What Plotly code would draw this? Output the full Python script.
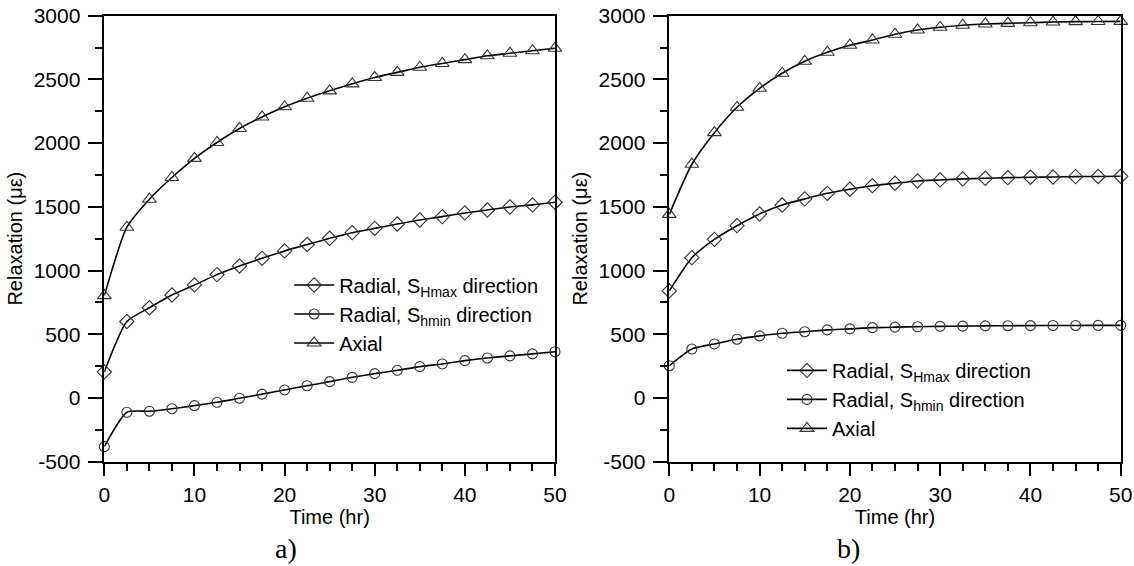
import plotly.graph_objects as go

time_hr = [0, 2.5, 5, 7.5, 10, 12.5, 15, 17.5, 20, 22.5, 25, 27.5, 30,
           32.5, 35, 37.5, 40, 42.5, 45, 47.5, 50]

# Panel a)
a_hmax = [205, 600, 708, 808, 887, 968, 1036, 1096, 1154, 1204, 1253, 1297,
          1331, 1365, 1397, 1423, 1452, 1475, 1499, 1515, 1536]
a_hmin = [-382, -112, -104, -84, -60, -34, -2, 30, 63, 96, 128, 162, 191,
          217, 246, 267, 293, 314, 330, 346, 363]
a_axial = [803, 1340, 1560, 1730, 1880, 2005, 2115, 2205, 2285, 2352, 2410,
           2465, 2515, 2555, 2595, 2625, 2655, 2685, 2705, 2725, 2744]

# Panel b)
b_hmax = [840, 1101, 1245, 1352, 1444, 1514, 1562, 1606, 1638, 1666, 1685,
          1703, 1711, 1719, 1724, 1729, 1732, 1734, 1737, 1738, 1740]
b_hmin = [253, 384, 424, 461, 487, 508, 520, 534, 542, 552, 556, 559, 562,
          564, 566, 567, 568, 569, 569, 570, 570]
b_axial = [1441, 1834, 2082, 2281, 2430, 2548, 2642, 2713, 2768, 2809, 2854,
           2888, 2909, 2925, 2935, 2940, 2945, 2950, 2953, 2954, 2955]

series_names = ["Radial, S<sub>Hmax</sub> direction",
                "Radial, S<sub>hmin</sub> direction",
                "Axial"]
symbols = ["diamond-open", "circle-open", "triangle-up-open"]
marker_sizes = [11, 10, 12]
x_ticks = [0, 10, 20, 30, 40, 50]
y_ticks = [-500, 0, 500, 1000, 1500, 2000, 2500, 3000]
y_tick_text = ["-500", "0", "500", "1000", "1500", "2000", "2500", "3000"]
panel_labels = ["a)", "b)"]

FONT = "Arial, Liberation Sans, sans-serif"
fig = go.Figure()

panels = [(a_hmax, a_hmin, a_axial), (b_hmax, b_hmin, b_axial)]
for p, data in enumerate(panels):
    xa = "x" if p == 0 else "x2"
    ya = "y" if p == 0 else "y2"
    lg = "legend" if p == 0 else "legend2"
    for k, vals in enumerate(data):
        fig.add_trace(go.Scatter(
            x=time_hr, y=vals, xaxis=xa, yaxis=ya, name=series_names[k],
            mode="lines+markers", legend=lg,
            line=dict(color="black", width=1.6, shape="spline", smoothing=0.6),
            marker=dict(symbol=symbols[k], size=marker_sizes[k],
                        color="#333333", line=dict(width=1.1)),
            cliponaxis=False,
        ))

axis_common = dict(showline=True, linecolor="black", linewidth=1.5,
                   mirror=True, showgrid=False, zeroline=False,
                   automargin=False,
                   ticks="outside", tickcolor="black", tickwidth=1.5,
                   tickfont=dict(family=FONT, size=21, color="black"))

x_dom = [[0.0920, 0.4894], [0.5902, 0.9883]]
y_dom = [0.1843, 0.9723]
label_x = [0.2522, 0.7480]

for p in range(2):
    sfx = "" if p == 0 else "2"
    fig.layout["xaxis" + sfx] = dict(
        axis_common, domain=x_dom[p], range=[0, 50],
        tickvals=x_ticks, ticklen=13,
        minor=dict(dtick=2.5, ticklen=8, ticks="outside", tickcolor="black",
                   tickwidth=1.5),
        title=dict(text="Time (hr)", font=dict(family=FONT, size=20, color="black"),
                   standoff=0),
        anchor="y" + sfx,
    )
    fig.layout["yaxis" + sfx] = dict(
        axis_common, domain=y_dom, range=[-500, 3000],
        tickvals=y_ticks, ticktext=y_tick_text, ticklen=15, ticklabelstandoff=3,
        minor=dict(dtick=250, ticklen=8, ticks="outside", tickcolor="black",
                   tickwidth=1.5),
        title=dict(text="Relaxation (με)", font=dict(family=FONT, size=20, color="black"),
                   standoff=6),
        anchor="x" + sfx,
    )
    fig.add_annotation(text=panel_labels[p], xref="paper", yref="paper",
                       x=label_x[p], y=0.0, xanchor="center", yanchor="bottom",
                       showarrow=False,
                       font=dict(family="Liberation Serif, Times New Roman, serif",
                                 size=28, color="black"))

legend_common = dict(font=dict(family=FONT, size=20, color="black"),
                     bgcolor="rgba(0,0,0,0)", borderwidth=0,
                     xanchor="left", yanchor="top", tracegroupgap=0,
                     itemwidth=40)
fig.update_layout(
    legend=dict(legend_common, x=0.255, y=0.531),
    legend2=dict(legend_common, x=0.6896, y=0.380),
    width=1134, height=566,
    margin=dict(l=0, r=0, t=0, b=0),
    paper_bgcolor="white", plot_bgcolor="white",
    showlegend=True,
)

fig.write_html("out.html")
